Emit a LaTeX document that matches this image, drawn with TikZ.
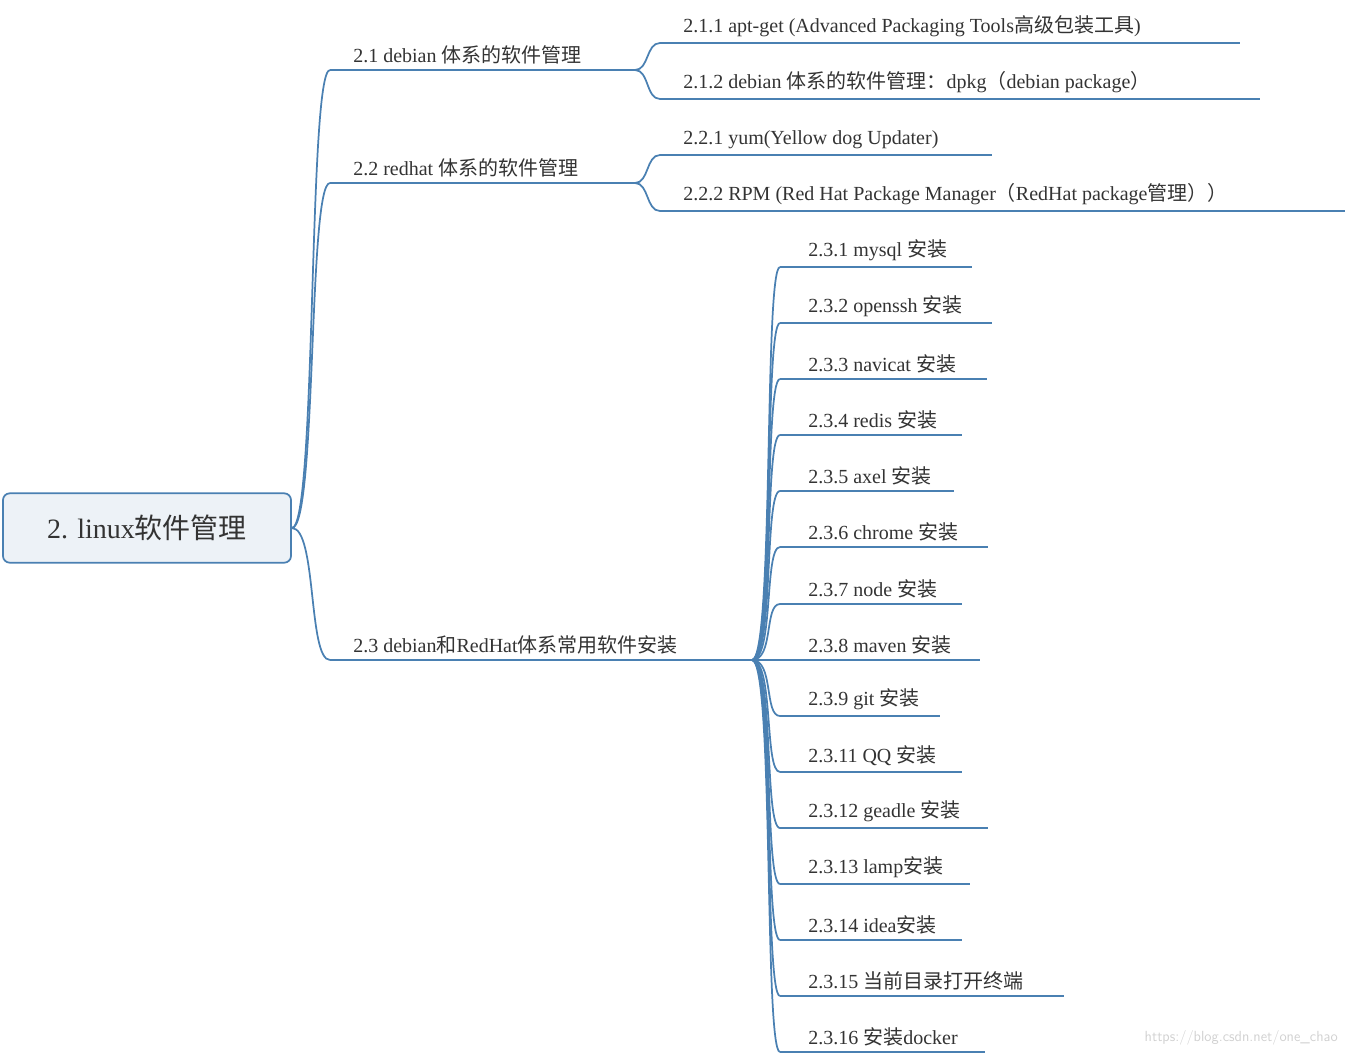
\documentclass[tikz,border=0pt]{standalone}
\usepackage{fontspec}
\setmainfont{Liberation Serif}
\newfontfamily\cjk{Noto Sans CJK SC}
\newcommand\zh[1]{{\cjk #1}}
\definecolor{ln}{HTML}{4A80B2}
\definecolor{tx}{HTML}{333333}
\tikzset{lbl/.style={anchor=south west,inner sep=0pt,text=tx,font=\fontsize{15}{18}\selectfont},
 edge/.style={draw=ln,line width=1.3pt},
 uline/.style={draw=ln,line width=1.1pt}}
\begin{document}
\begin{tikzpicture}[x=0.75pt,y=-0.75pt]
\useasboundingbox (0,0) rectangle (1346,1054);
\node[draw=ln,line width=1.3pt,fill=ln!10,rounded corners=5pt,minimum width=216pt,minimum height=52pt,text=tx,font=\fontsize{21}{24}\selectfont] (root) at (147,528) {2. linux\zh{软件管理}};
% level 1
\newcommand\branch[5]{%
 \coordinate (#1s) at (#2,#4); \coordinate (#1e) at (#3,#4);
 \draw[uline] (#1s) -- (#1e);
 \node[lbl] (#1) at ([shift={(23,-6)}]#1s) {#5};}
\branch{a}{330}{635}{70}{2.1 debian \zh{体系的软件管理}}
\branch{b}{330}{635}{183}{2.2 redhat \zh{体系的软件管理}}
\branch{c}{330}{752}{660}{2.3 debian\zh{和}RedHat\zh{体系常用软件安装}}
\foreach \n in {a,b,c}{\draw[edge] (root.east) .. controls +(25,0) and +(-22,0) .. (\n s);}
\branch{aa}{660}{1240}{43}{2.1.1 apt-get (Advanced Packaging Tools\zh{高级包装工具})}
\branch{ab}{660}{1260}{99}{2.1.2 debian \zh{体系的软件管理：}dpkg\zh{（}debian package\zh{）}}
\branch{ba}{660}{992}{155}{2.2.1 yum(Yellow dog Updater)}
\branch{bb}{660}{1345}{211}{2.2.2 RPM (Red Hat Package Manager\zh{（}RedHat package\zh{管理））}}
\draw[edge] (ae) .. controls +(14,0) and +(-14,0) .. (aas);
\draw[edge] (ae) .. controls +(14,0) and +(-14,0) .. (abs);
\draw[edge] (be) .. controls +(14,0) and +(-14,0) .. (bas);
\draw[edge] (be) .. controls +(14,0) and +(-14,0) .. (bbs);
\foreach \i/\y/\e/\t in {1/267/972/{2.3.1 mysql \zh{安装}},2/323/992/{2.3.2 openssh \zh{安装}},3/379/987/{2.3.3 navicat \zh{安装}},4/435/962/{2.3.4 redis \zh{安装}},5/491/954/{2.3.5 axel \zh{安装}},6/547/988/{2.3.6 chrome \zh{安装}},7/604/962/{2.3.7 node \zh{安装}},8/660/980/{2.3.8 maven \zh{安装}},9/716/940/{2.3.9 git \zh{安装}},10/772/962/{2.3.11 QQ \zh{安装}},11/828/988/{2.3.12 geadle \zh{安装}},12/884/970/{2.3.13 lamp\zh{安装}},13/940/962/{2.3.14 idea\zh{安装}},14/996/1064/{2.3.15 \zh{当前目录打开终端}},15/1052/985/{2.3.16 \zh{安装}docker}}{
 \coordinate (c\i s) at (780,\y); \coordinate (c\i e) at (\e,\y);
 \draw[uline] (c\i s) -- (c\i e);
 \node[lbl] (c\i) at ([shift={(28,-6)}]c\i s) {\t};
 \draw[edge] (ce) .. controls +(22,0) and +(-16,0) .. (c\i s);
}
\node[text=black!18,font=\fontsize{11}{13}\sffamily,anchor=south east,inner sep=0pt] (wm) at (1338,1045) {https://blog.csdn.net/one\_chao};
\end{tikzpicture}
\end{document}
